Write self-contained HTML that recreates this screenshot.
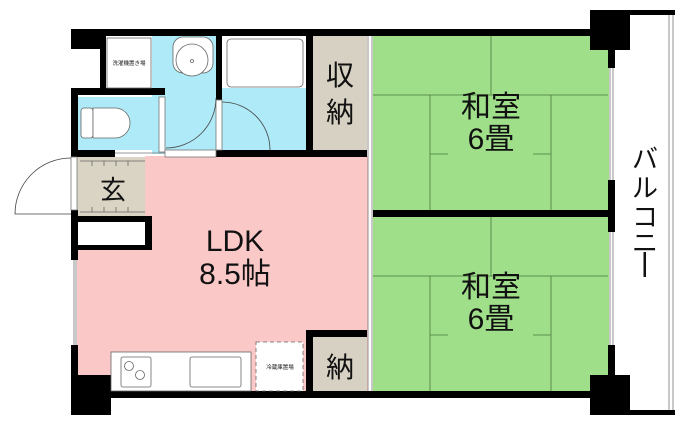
<!DOCTYPE html>
<html><head><meta charset="utf-8"><style>body{margin:0;background:#fff}svg{display:block}text{font-family:"Liberation Sans","Noto Sans CJK JP",sans-serif;fill:#111}</style></head><body>
<svg width="686" height="426" viewBox="0 0 686 426">
<rect x="373" y="36" width="236" height="175" fill="#9fdf8a"/>
<rect x="373" y="216" width="236" height="176" fill="#9fdf8a"/>
<rect x="145" y="156" width="223" height="236" fill="#fbc8c8"/>
<rect x="77" y="245" width="70" height="140" fill="#fbc8c8"/>
<rect x="152" y="36" width="64" height="118" fill="#aeeaf7"/>
<rect x="222" y="88" width="84" height="62" fill="#aeeaf7"/>
<rect x="78" y="97" width="81" height="53" fill="#aeeaf7"/>
<rect x="313" y="36" width="54" height="114" fill="#d6d1c2"/>
<rect x="313" y="337" width="54" height="54" fill="#d6d1c2"/>
<rect x="77" y="157" width="68" height="59" fill="#d9d4c4"/>
<g stroke="#4a7a3c" stroke-width="0.8" fill="none">
<path d="M491 36V95M373 95H608M430 95V210M551 95V210M430 154H448M533 154H551"/>
<path d="M491 217V276M373 276H608M430 276V391M551 276V391M430 335H448M533 335H551"/>
</g>
<g stroke="#666" stroke-width="0.8" fill="none">
<path d="M80 212H145M80 161H145M92 161V166M104 161V166M116 161V166M128 161V166M92 207V212M104 207V212M116 207V212M128 207V212"/>
</g>
<g fill="#000">
<rect x="71" y="29" width="519" height="7"/>
<rect x="71" y="29" width="29" height="20"/>
<rect x="100" y="29" width="6" height="61"/>
<rect x="71" y="88" width="94" height="7"/>
<rect x="71" y="88" width="7" height="69"/>
<rect x="216" y="36" width="6" height="64"/>
<rect x="306" y="29" width="7" height="127"/>
<rect x="216" y="150" width="151" height="7"/>
<rect x="71" y="150" width="44" height="7"/>
<rect x="71" y="210" width="7" height="50"/>
<rect x="71" y="345" width="7" height="70"/>
<rect x="71" y="375" width="40" height="40"/>
<rect x="71" y="216" width="81" height="34"/>
<rect x="71" y="391" width="519" height="7"/>
<rect x="306" y="330" width="61" height="7"/>
<rect x="306" y="330" width="7" height="62"/>
<rect x="373" y="210" width="242" height="7"/>
<rect x="590" y="10" width="40" height="40"/>
<rect x="590" y="10" width="85" height="5"/>
<rect x="590" y="375" width="40" height="40"/>
<rect x="590" y="410" width="85" height="5"/>
<rect x="608" y="36" width="7" height="32"/>
<rect x="608" y="180" width="7" height="52"/>
<rect x="608" y="345" width="7" height="46"/>
</g>
<rect x="78" y="222" width="67" height="23" fill="#fff"/>
<g stroke="#777" stroke-width="0.8" fill="none">
<path d="M368 36V391M372 36V391"/>
<path d="M74 260V345M76 260V345"/>
<path d="M610 68V180M613 68V180M610 232V345M613 232V345"/>
<path d="M669 15V410M673 15V410"/>
<path d="M115 153H165"/>
<rect x="159" y="97" width="6" height="55" fill="#fff"/>
<rect x="216" y="100" width="6" height="50" fill="#fff"/>
<rect x="165" y="150" width="51" height="7" fill="#fff"/>
<rect x="71" y="157" width="6" height="53" fill="#fff"/>
</g>
<g stroke="#444" stroke-width="0.8" fill="none">
<path d="M71 158A56 56 0 0 0 15 214H71"/>
<path d="M166 148A50 50 0 0 0 216 98"/>
<path d="M222 102A48 48 0 0 1 270 150"/>
</g>
<g stroke="#666" stroke-width="0.8" fill="#fff">
<rect x="107" y="38" width="44" height="50"/>
<rect x="227" y="39" width="76" height="48" rx="4"/>
<rect x="173" y="37" width="40" height="36" rx="10"/>
<circle cx="192" cy="60" r="16"/>
<circle cx="192" cy="61" r="1.5"/>
<rect x="81" y="108" width="12" height="30" rx="3"/>
<path d="M93 108H115A15 15 0 0 1 115 138H93Z"/>
<rect x="111" y="352" width="140" height="39"/>
<rect x="121" y="357" width="30" height="30" rx="2"/>
<circle cx="129" cy="366" r="4.5"/>
<circle cx="140" cy="375" r="4.5"/>
<rect x="190" y="357" width="51" height="30" rx="2"/>
<rect x="256" y="342" width="47" height="49" stroke-dasharray="4 3"/>
</g>
<text x="129" y="65" font-size="5.5" text-anchor="middle">洗濯機置き場</text>
<text x="280" y="369" font-size="5.5" text-anchor="middle">冷蔵庫置場</text>
<text x="340" y="85" font-size="28" text-anchor="middle">収</text>
<text x="340" y="122" font-size="28" text-anchor="middle">納</text>
<text x="340" y="377" font-size="28" text-anchor="middle">納</text>
<text x="113" y="199" font-size="26" text-anchor="middle">玄</text>
<text x="235" y="251" font-size="30" text-anchor="middle">LDK</text>
<text x="235" y="284" font-size="30" text-anchor="middle">8.5帖</text>
<text x="491" y="117" font-size="30" text-anchor="middle">和室</text>
<text x="491" y="149" font-size="30" text-anchor="middle">6畳</text>
<text x="491" y="297" font-size="30" text-anchor="middle">和室</text>
<text x="491" y="329" font-size="30" text-anchor="middle">6畳</text>
<g font-size="26" text-anchor="middle">
<text x="645" y="168">バ</text>
<text x="645" y="197">ル</text>
<text x="645" y="226">コ</text>
<text x="645" y="252">ニ</text>
</g>
<rect x="643.5" y="252" width="2.5" height="25" fill="#111"/>
</svg>
</body></html>
